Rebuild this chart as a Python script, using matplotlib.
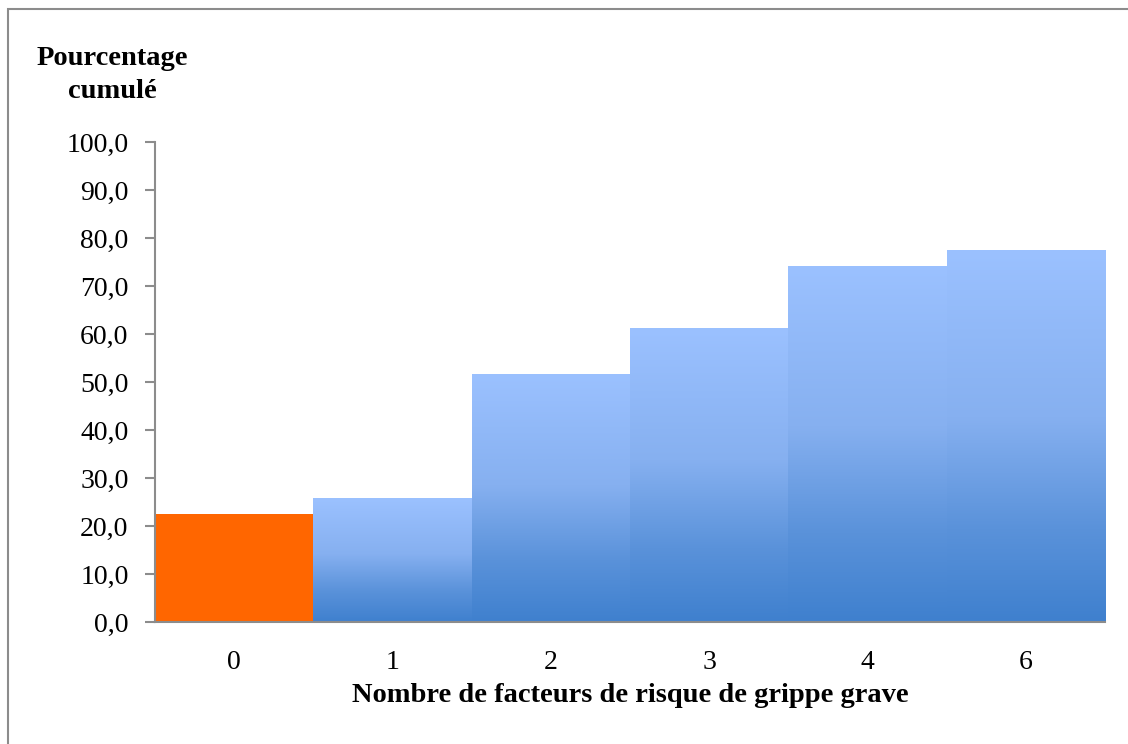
import numpy as np
import matplotlib
matplotlib.use("Agg")
import matplotlib.pyplot as plt
from matplotlib.colors import LinearSegmentedColormap
from matplotlib.patches import Rectangle
import matplotlib.patheffects as pe

categories = ["0", "1", "2", "3", "4", "6"]
values = [22.6, 25.8, 51.5, 61.2, 74.1, 77.5]
yticks = [0, 10, 20, 30, 40, 50, 60, 70, 80, 90, 100]
ytick_labels = ["0,0", "10,0", "20,0", "30,0", "40,0", "50,0", "60,0", "70,0", "80,0", "90,0", "100,0"]
xlabel = "Nombre de facteurs de risque de grippe grave"
ylabel = "Pourcentage\ncumulé"

plt.rcParams['font.family'] = ['Liberation Serif', 'DejaVu Serif']

W, H = 1128, 744
fig = plt.figure(figsize=(W / 100, H / 100), dpi=100)
fig.patch.set_facecolor("white")

# outer frame (top and left visible, cropped on right/bottom)
fig.patches.append(Rectangle((7.5 / W, -0.1), 1.2, 1 - 8.5 / H + 0.1,
                             transform=fig.transFigure, fill=False,
                             edgecolor="#8c8c8c", linewidth=1.5))

ax = fig.add_axes([155 / W, 1 - 622 / H, (1105 - 155) / W, (622 - 142) / H])

cmap = LinearSegmentedColormap.from_list(
    "grad", [(0.0, "#3f80ce"), (0.25, "#5a92da"), (0.55, "#86b0f0"), (1.0, "#9bc1ff")])
grad = np.linspace(0, 1, 256).reshape(-1, 1)

x = np.arange(len(categories))
for i, (xi, v) in enumerate(zip(x, values)):
    if i == 0:
        ax.bar(xi, v, width=1.0, color="#ff6600", zorder=2,
               path_effects=[pe.SimplePatchShadow(offset=(2, -2), alpha=0.35), pe.Normal()])
    else:
        ax.bar(xi, v, width=1.0, color="#9bc1ff", zorder=2,
               path_effects=[pe.SimplePatchShadow(offset=(2, -2), alpha=0.35), pe.Normal()])
        ax.imshow(grad, cmap=cmap, origin="lower", aspect="auto",
                  extent=(xi - 0.5, xi + 0.5, 0, v), zorder=3, interpolation="bicubic")
ax.set_xlim(-0.5, len(categories) - 0.5)
ax.set_ylim(0, 100)

for s in ["top", "right"]:
    ax.spines[s].set_visible(False)
for s in ["left", "bottom"]:
    ax.spines[s].set_color("#8c8c8c")
    ax.spines[s].set_linewidth(1.5)
    ax.spines[s].set_zorder(5)

ax.set_yticks(yticks)
ax.set_yticklabels(ytick_labels, fontsize=20)
ax.set_xticks(x)
ax.set_xticklabels(categories, fontsize=20)
ax.tick_params(axis="y", direction="out", length=7, width=1.5, color="#8c8c8c", pad=12)
ax.tick_params(axis="x", length=0, pad=20)

ax.set_xlabel(xlabel, fontsize=20.5, fontweight="bold", labelpad=6)
fig.text(112 / W, 1 - 75 / H, ylabel, fontsize=20.5, fontweight="bold",
         ha="center", va="center", linespacing=1.4)

fig.savefig("out.png", dpi=100, facecolor="white")
